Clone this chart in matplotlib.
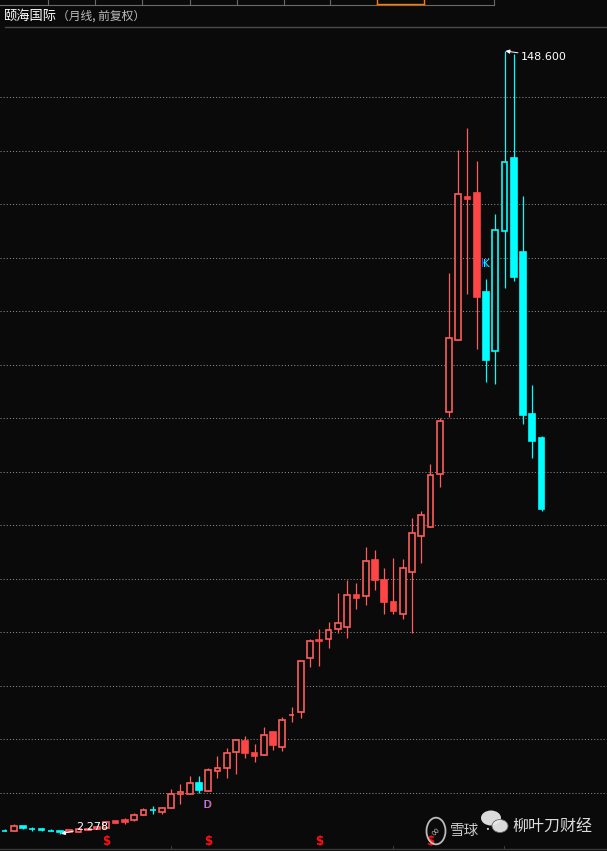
import matplotlib
matplotlib.use('Agg')
import matplotlib.pyplot as plt
from matplotlib.patches import Rectangle, Circle, Ellipse
from matplotlib.lines import Line2D

plt.rcParams['font.family'] = ['Noto Sans CJK SC', 'DejaVu Sans']

# ---------------- data (monthly candles, forward adjusted) ----------------
title_name = '颐海国际'
title_note = '（月线, 前复权）'

opens = [2.80, 2.80, 3.68, 3.18, 3.05, 2.80, 2.71, 2.60, 2.62, 3.05,
         3.23, 3.42, 4.62, 4.86, 4.86, 5.74, 6.67, 6.36, 7.01, 9.66,
         9.81, 11.72, 10.37, 14.07, 14.49, 17.63, 19.63, 17.33, 17.07, 21.31,
         18.56, 24.40, 24.99, 35.08, 38.50, 38.75, 40.62, 40.88, 46.86, 46.79,
         53.40, 49.66, 45.61, 43.31, 51.27, 58.00, 59.68, 69.48, 81.18, 94.52,
         121.31, 122.06, 103.55, 92.58, 115.01, 128.65, 111.03, 80.75, 76.26]
highs = [3.18, 4.11, 3.68, 3.61, 3.36, 3.18, 2.80, 2.95, 3.31, 3.18,
         3.61, 4.49, 4.62, 5.18, 6.11, 7.16, 7.53, 7.38, 10.65, 11.59,
         13.08, 13.08, 14.52, 16.82, 18.26, 20.00, 20.56, 19.07, 22.30, 21.31,
         24.06, 25.93, 34.60, 38.69, 40.62, 41.81, 47.35, 49.72, 49.10, 55.83,
         55.33, 51.91, 53.83, 53.59, 61.36, 62.62, 71.40, 79.94, 107.10, 130.09,
         134.15, 128.04, 105.98, 118.13, 148.60, 148.04, 121.50, 86.17, 76.64]
lows = [2.80, 2.78, 3.18, 2.80, 2.80, 2.80, 2.278, 2.55, 2.62, 2.99,
        3.23, 3.42, 4.36, 4.11, 4.67, 5.74, 5.93, 5.98, 7.01, 7.85,
        9.81, 9.85, 10.37, 12.65, 12.62, 13.46, 16.36, 15.76, 17.07, 17.94,
        17.81, 23.23, 23.98, 33.51, 33.70, 37.07, 39.87, 38.93, 44.36, 45.10,
        47.91, 43.42, 43.42, 42.49, 39.72, 52.95, 59.68, 67.16, 80.19, 94.52,
        103.23, 92.95, 86.79, 86.41, 104.36, 105.66, 78.93, 72.58, 62.67]
closes = [2.79, 3.74, 3.42, 3.17, 3.04, 2.79, 2.70, 2.90, 3.18, 3.14,
          3.55, 4.49, 4.36, 4.54, 5.74, 6.67, 6.66, 7.05, 9.66, 10.04,
          11.72, 10.43, 14.15, 14.52, 17.33, 19.76, 17.44, 16.88, 20.69, 18.93,
          23.55, 24.45, 34.52, 38.26, 38.26, 40.32, 41.63, 46.86, 46.41, 53.21,
          49.78, 45.66, 43.98, 51.91, 58.45, 61.81, 69.29, 79.38, 94.90, 121.81,
          120.99, 102.67, 90.84, 115.08, 127.79, 106.41, 80.56, 75.76, 62.99]
# bar colour group as shown by the software: 'r' = red group, 'c' = cyan group
bar_group = list('crcccccrrrrrrrrrcrrrrcrrrrrrrrrrrrrrrrrrrrrrrrrrrrrrccccccc')

grid_levels = [10, 20, 30, 40, 50, 60, 70, 80, 90, 100, 110, 120, 130, 140]
dollar_bars = [11, 22, 34, 46]      # bars carrying the "$" event mark
d_bar, k_bar = 22, 52               # bars carrying "D" and "K" marks
high_label = '148.600'
low_label = '2.278'
watermark_a = '雪球'
watermark_sep = '·'
watermark_b = '柳叶刀财经'

# ---------------- styling ----------------
W, H = 607, 851
BG = '#0a0a0a'
RED_LINE = '#ff5c5c'
RED_FILL = '#ff4646'
CYAN = '#00ffff'
GRID = '#8a8a8a'

fig = plt.figure(figsize=(W / 100, H / 100), dpi=100, facecolor=BG)
ax = fig.add_axes([0, 0, 1, 1])
ax.set_facecolor(BG)
ax.axis('off')

# pixel geometry of the price pane
x0_px, dx_px = 4.5, 9.26          # centre of first bar, bar pitch
y10_px, px_per_unit = 792.5, 5.35  # pixel row of price 10, pixels per unit
ax.set_xlim((0 - x0_px) / dx_px, (W - x0_px) / dx_px)
ax.set_ylim(10 + (y10_px - H) / px_per_unit, 10 + y10_px / px_per_unit)


def fx(px):
    return px / W


def fy(py):
    return 1 - py / H


# grid
for g in grid_levels:
    ax.axhline(g, color=GRID, lw=0.75, ls=(0, (1, 2)), zorder=1)

# candles
body_w = 0.62
for i, (o, h, l, c, grp) in enumerate(zip(opens, highs, lows, closes, bar_group)):
    col = CYAN if grp == 'c' else RED_LINE
    ax.plot([i, i], [l, h], color=col, lw=0.9, zorder=2, solid_capstyle='butt')
    bottom = min(o, c)
    height = max(abs(c - o), 0.05)
    if c < o:
        fc = CYAN if grp == 'c' else RED_FILL
        ec = fc
    else:
        fc = BG
        ec = col
    ax.add_patch(Rectangle((i - body_w / 2, bottom), body_w, height,
                           facecolor=fc, edgecolor=ec, lw=1.2, zorder=3))

# high / low annotations
hi_i = highs.index(max(highs))
lo_i = lows.index(min(lows))
ax.annotate(high_label, xy=(hi_i + 0.1, max(highs)), xytext=(11, -4),
            textcoords='offset points', color='white', fontsize=8,
            family='DejaVu Sans', va='center', ha='left',
            arrowprops=dict(arrowstyle='-|>', color='white', lw=0.7,
                            mutation_scale=6, shrinkA=0, shrinkB=0), zorder=6)
ax.annotate(low_label, xy=(lo_i + 0.1, min(lows)), xytext=(11, 5),
            textcoords='offset points', color='white', fontsize=8,
            family='DejaVu Sans', va='center', ha='left',
            arrowprops=dict(arrowstyle='-|>', color='white', lw=0.7,
                            mutation_scale=6, shrinkA=0, shrinkB=0), zorder=6)

# D and K marks (with blue shadow)
for idx, letter, col, ref, off in [(d_bar, 'D', '#ff7070', lows, -10.5),
                                   (k_bar, 'K', CYAN, highs, 10.5)]:
    ax.annotate(letter, xy=(idx, ref[idx]), xytext=(-0.9, off),
                textcoords='offset points', color='#3050ff', fontsize=7.5,
                family='DejaVu Sans', ha='center', va='center', zorder=5)
    ax.annotate(letter, xy=(idx, ref[idx]), xytext=(0.2, off),
                textcoords='offset points', color=col, fontsize=7.5,
                family='DejaVu Sans', ha='center', va='center', zorder=6)

# $ marks at the bottom
for idx in dollar_bars:
    ax.text(idx, 10 + (y10_px - 842) / px_per_unit, '$', color='#ff1010',
            fontsize=8.5, fontweight='bold', family='DejaVu Sans',
            ha='center', va='center', zorder=6)

# ---------------- frame / header decorations ----------------
def hline(y, xa, xb, col, lw=0.8):
    fig.add_artist(Line2D([fx(xa), fx(xb)], [fy(y), fy(y)], color=col, lw=lw))


def vline(x, ya, yb, col, lw=0.8):
    fig.add_artist(Line2D([fx(x), fx(x)], [fy(ya), fy(yb)], color=col, lw=lw))


hline(4.5, 0, 494, '#6a6a6a')
for xt in [47.7, 95, 142.3, 189.7, 237, 284.3, 330, 494.3]:
    vline(xt, 0, 4.5, '#6a6a6a')
hline(3.5, 377.3, 424, '#ff7a00', lw=1.0)
vline(377.3, 0, 3.5, '#ff7a00', lw=1.0)
vline(424, 0, 3.5, '#ff7a00', lw=1.0)
hline(27, 5, W, '#4a4a4a', lw=1.0)
hline(849, 0, W, '#3a3a3a', lw=1.0)
for xt in [171, 393, 504]:
    vline(xt, 846, 849, '#3a3a3a')

fig.text(fx(4), fy(16), title_name, color='white', fontsize=9.5, va='center', ha='left')
fig.text(fx(57), fy(16), title_note, color='#bdbdbd', fontsize=8.5, va='center', ha='left')

# watermark
fig.add_artist(Circle((fx(436), fy(831)), 9.5 / W, transform=fig.transFigure,
                      facecolor='none', edgecolor='#d0d0d0', lw=1.3, alpha=0.9))
fig.text(fx(436), fy(831), '∞', color='#d0d0d0', fontsize=8, ha='center', va='center',
         family='DejaVu Sans', rotation=45, alpha=0.9)
fig.text(fx(450), fy(831), watermark_a, color='#e0e0e0', fontsize=10.5, ha='left', va='center', alpha=0.9)
fig.text(fx(487), fy(830), watermark_sep, color='#e0e0e0', fontsize=7, ha='center', va='center')
fig.add_artist(Ellipse((fx(491), fy(818)), 20 / W, 15 / H, transform=fig.transFigure,
                       facecolor='#e8e8e8', edgecolor='none', alpha=0.95))
fig.add_artist(Ellipse((fx(500), fy(826)), 16 / W, 13 / H, transform=fig.transFigure,
                       facecolor='#e8e8e8', edgecolor='#666666', lw=0.6, alpha=0.95))
fig.text(fx(512), fy(827), watermark_b, color='#e8e8e8', fontsize=11.5, ha='left', va='center', alpha=0.95)

fig.savefig('out.png', dpi=100, facecolor=BG)
